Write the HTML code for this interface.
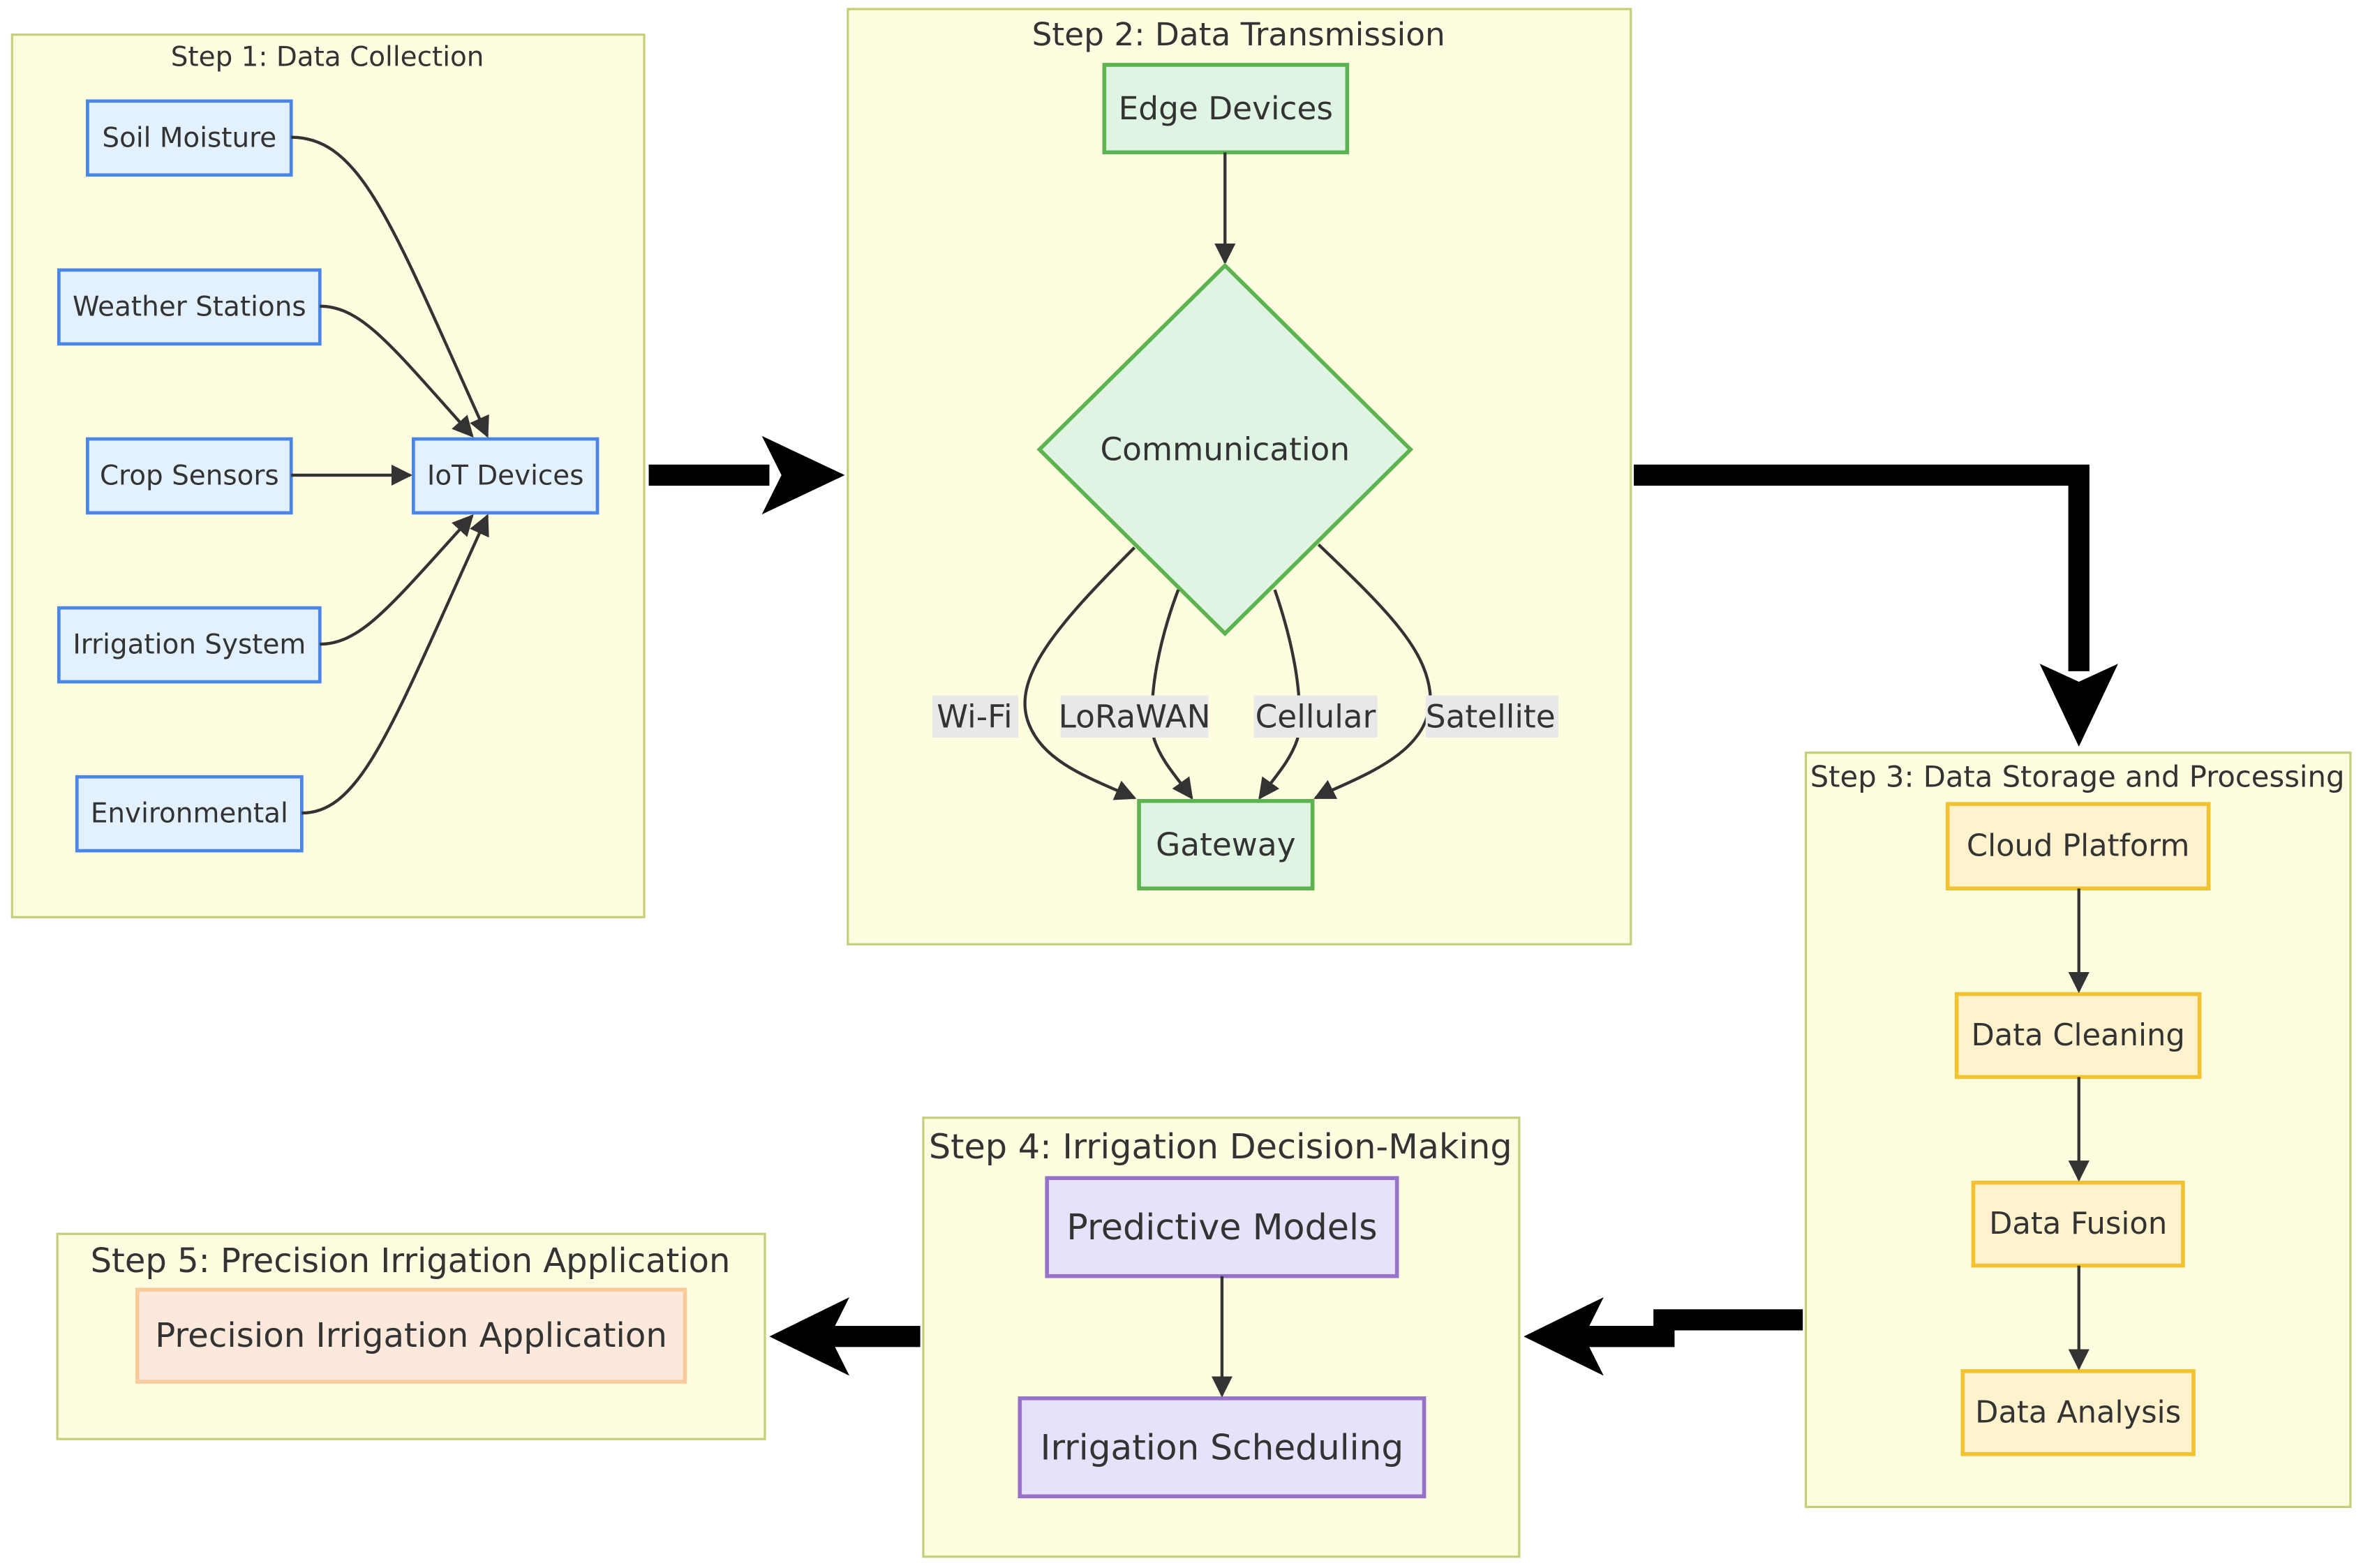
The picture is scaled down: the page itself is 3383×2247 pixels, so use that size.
<!DOCTYPE html>
<html><head><meta charset="utf-8"><style>
html,body{margin:0;padding:0;background:#fff;}
svg{display:block;}
text{font-family:"DejaVu Sans","Liberation Sans",sans-serif;fill:#333;text-anchor:middle;dominant-baseline:central;}
.cl{fill:#fffde0;stroke:#c5cf7a;stroke-width:1.5;}
.b{fill:#e3f0fd;stroke:#4a86e8;stroke-width:2.2;}
.g{fill:#e0f4e4;stroke:#5cb350;stroke-width:2.6;}
.y{fill:#fff2cc;stroke:#f1c232;stroke-width:2.6;}
.p{fill:#e6e2fa;stroke:#9673c9;stroke-width:2.6;}
.o{fill:#fde9dc;stroke:#f9cb9c;stroke-width:2.6;}
.e{fill:none;stroke:#333;stroke-width:2;}
.lb{fill:#e8e8e8;}
</style></head><body>
<svg width="3383" height="2247" viewBox="0 0 1565 1039.5" xmlns="http://www.w3.org/2000/svg">
<defs>
<marker id="a2" viewBox="0 0 10 10" refX="9" refY="5" markerWidth="14" markerHeight="14" markerUnits="userSpaceOnUse" orient="auto"><path d="M0,0L10,5L0,10z" fill="#333"/></marker>
</defs>
<!-- Step 1 -->
<rect class="cl" x="8" y="23" width="419" height="585"/>
<text x="217" y="38" font-size="18">Step 1: Data Collection</text>
<rect class="b" x="58" y="67" width="135" height="49"/><text x="125.5" y="91.5" font-size="18">Soil Moisture</text>
<rect class="b" x="39" y="179" width="173" height="49"/><text x="125.5" y="203.5" font-size="18">Weather Stations</text>
<rect class="b" x="58" y="291" width="135" height="49"/><text x="125.5" y="315.5" font-size="18">Crop Sensors</text>
<rect class="b" x="39" y="403" width="173" height="49"/><text x="125.5" y="427.5" font-size="18">Irrigation System</text>
<rect class="b" x="51" y="515" width="149" height="49"/><text x="125.5" y="539.5" font-size="18">Environmental</text>
<rect class="b" x="274" y="291" width="122" height="49"/><text x="335" y="315.5" font-size="18">IoT Devices</text>
<path class="e" marker-end="url(#a2)" d="M193,91 C240,91 260,150 323,289"/>
<path class="e" marker-end="url(#a2)" d="M212,203 C240,203 260,230 313,289"/>
<path class="e" marker-end="url(#a2)" d="M193,315 L272,315"/>
<path class="e" marker-end="url(#a2)" d="M212,427 C240,427 260,400 313,342"/>
<path class="e" marker-end="url(#a2)" d="M200,539 C240,539 260,480 323,342"/>
<!-- big arrow 1 -->
<rect x="430" y="308" width="80" height="14" fill="#000"/>
<path d="M505,289 L560,315 L505,341 L518,315z" fill="#000"/>
<!-- Step 2 -->
<rect class="cl" x="562" y="6" width="519" height="620"/>
<text x="821" y="23" font-size="21">Step 2: Data Transmission</text>
<rect class="g" x="732" y="43" width="161" height="58"/><text x="812.5" y="72" font-size="21">Edge Devices</text>
<path class="e" marker-end="url(#a2)" d="M812,101 L812,174"/>
<polygon class="g" points="812,176 935,298 812,420 689,298"/>
<text x="812" y="298" font-size="21">Communication</text>
<path class="e" marker-end="url(#a2)" d="M752,363 C700,415 670,450 682,480 C692,505 720,515 752,529"/>
<path class="e" marker-end="url(#a2)" d="M781,391 C770,420 760,460 765,490 C770,505 780,515 790,529"/>
<path class="e" marker-end="url(#a2)" d="M845,391 C855,420 865,460 860,490 C855,505 845,515 835,529"/>
<path class="e" marker-end="url(#a2)" d="M874,361 C920,405 945,430 948,460 C950,500 900,515 872,529"/>
<rect class="lb" x="618" y="461" width="57" height="28"/><text x="646" y="475" font-size="21">Wi-Fi</text>
<rect class="lb" x="703" y="461" width="98" height="28"/><text x="752" y="475" font-size="21">LoRaWAN</text>
<rect class="lb" x="831" y="461" width="82" height="28"/><text x="872" y="475" font-size="21">Cellular</text>
<rect class="lb" x="945" y="461" width="88" height="28"/><text x="988" y="475" font-size="21">Satellite</text>
<rect class="g" x="755" y="531" width="115" height="58"/><text x="812.5" y="560" font-size="21">Gateway</text>
<!-- big arrow 2 -->
<path d="M1083,308 L1385,308 L1385,445 L1371,445 L1371,322 L1083,322z" fill="#000"/>
<path d="M1352,440 L1378,495 L1404,440 L1378,452z" fill="#000"/>
<!-- Step 3 -->
<rect class="cl" x="1197" y="499" width="361" height="500"/>
<text x="1377" y="515" font-size="19.3">Step 3: Data Storage and Processing</text>
<rect class="y" x="1291" y="533" width="173" height="56"/><text x="1377.5" y="561" font-size="20">Cloud Platform</text>
<rect class="y" x="1297" y="659" width="161" height="55"/><text x="1377.5" y="686.5" font-size="20">Data Cleaning</text>
<rect class="y" x="1308" y="784" width="139" height="55"/><text x="1377.5" y="811.5" font-size="20">Data Fusion</text>
<rect class="y" x="1301" y="909" width="153" height="55"/><text x="1377.5" y="936.5" font-size="20">Data Analysis</text>
<path class="e" marker-end="url(#a2)" d="M1378,589 L1378,657"/>
<path class="e" marker-end="url(#a2)" d="M1378,714 L1378,782"/>
<path class="e" marker-end="url(#a2)" d="M1378,839 L1378,907"/>
<!-- big arrow 3 -->
<path d="M1195,868 L1096,868 L1096,879 L1050,879 L1050,893 L1110,893 L1110,882 L1195,882z" fill="#000"/>
<path d="M1063,860 L1010,886 L1063,912 L1050,886z" fill="#000"/>
<!-- Step 4 -->
<rect class="cl" x="612" y="741" width="395" height="291"/>
<text x="809" y="760" font-size="22.8">Step 4: Irrigation Decision-Making</text>
<rect class="p" x="694" y="781" width="232" height="65"/><text x="810" y="813.5" font-size="23.5">Predictive Models</text>
<rect class="p" x="676" y="927" width="268" height="65"/><text x="810" y="959.5" font-size="23.2">Irrigation Scheduling</text>
<path class="e" marker-end="url(#a2)" stroke-width="2.4" d="M810,846 L810,925"/>
<!-- big arrow 4 -->
<rect x="550" y="879" width="60" height="14" fill="#000"/>
<path d="M563,860 L510,886 L563,912 L550,886z" fill="#000"/>
<!-- Step 5 -->
<rect class="cl" x="38" y="818" width="469" height="136"/>
<text x="272" y="836" font-size="22.2">Step 5: Precision Irrigation Application</text>
<rect class="o" x="91" y="855" width="363" height="61"/><text x="272.5" y="885.5" font-size="22.3">Precision Irrigation Application</text>
</svg>
</body></html>
